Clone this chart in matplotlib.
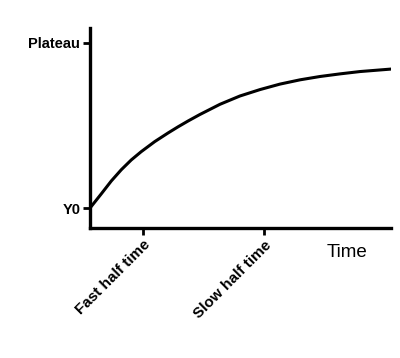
import numpy as np
import matplotlib
matplotlib.use("Agg")
import matplotlib.pyplot as plt

# curve (time in arbitrary units, response as fraction Y0->Plateau)
time = [0, 3.75, 7.08, 10.4, 13.7, 17.0, 21.5, 25.9, 29.2, 32.6, 36.5,
        43.2, 49.8, 56.5, 63.1, 69.8, 76.4, 83.1, 89.7, 100]
response = [0, 0.086, 0.164, 0.232, 0.291, 0.341, 0.402, 0.454, 0.491, 0.527, 0.566,
            0.628, 0.678, 0.717, 0.750, 0.776, 0.796, 0.812, 0.826, 0.841]

x_tick_pos = [17.6, 57.8]
x_tick_labels = ["Fast half time", "Slow half time"]
y_tick_pos = [0, 1]
y_tick_labels = ["Y0", "Plateau"]

plt.rcParams["font.family"] = ["Liberation Sans", "DejaVu Sans"]

fig = plt.figure(figsize=(4, 3.58), dpi=100)
ax = fig.add_axes([0.225, 0.363, 0.7525, 0.559])

ax.plot(time, response, color="black", linewidth=2.2, solid_joinstyle="round")

ax.set_xlim(0, 100)
ax.set_ylim(-0.121, 1.09)

# axes look
ax.spines["top"].set_visible(False)
ax.spines["right"].set_visible(False)
ax.spines["left"].set_linewidth(2.4)
ax.spines["bottom"].set_linewidth(2.4)

ax.set_xticks(x_tick_pos)
ax.set_xticklabels(x_tick_labels, rotation=45, ha="right", rotation_mode="anchor",
                   fontsize=11, fontweight="bold")
ax.set_yticks(y_tick_pos)
ax.set_yticklabels(y_tick_labels, fontsize=10.5, fontweight="bold")
ax.tick_params(axis="both", length=5, width=2, pad=2, color="black")

ax.text(0.855, -0.08, "Time", transform=ax.transAxes, fontsize=13.5, ha="center", va="top")

fig.savefig("out.png", dpi=100)
